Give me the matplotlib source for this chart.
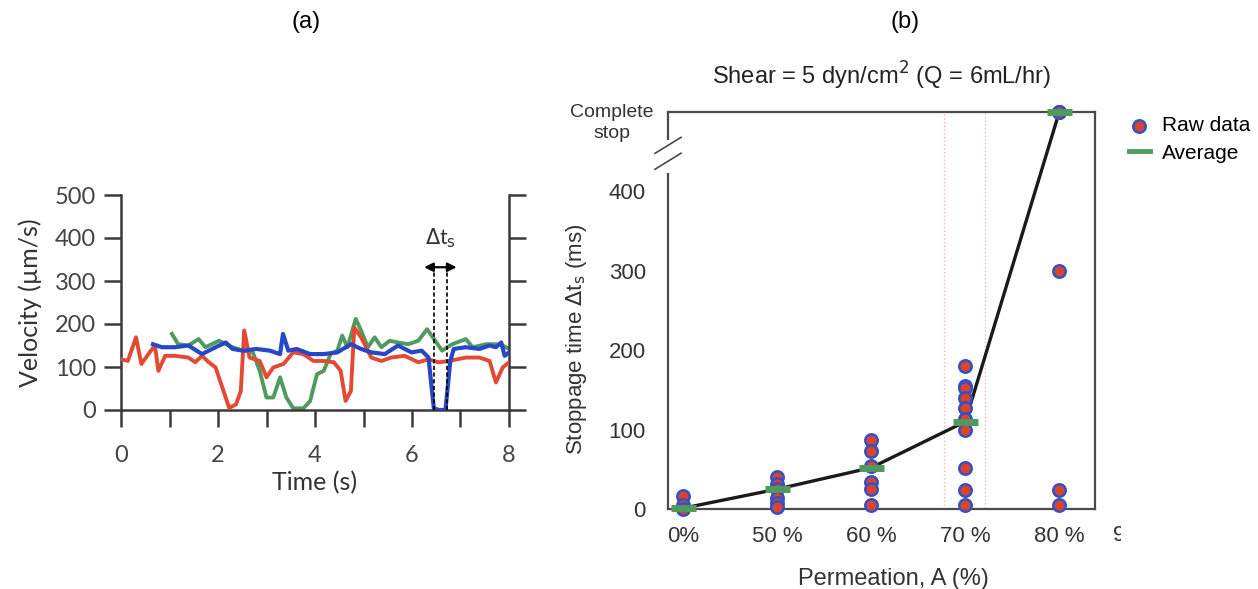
import matplotlib

matplotlib.use("Agg")
import matplotlib.pyplot as plt
from matplotlib import font_manager
from matplotlib.transforms import Bbox
import numpy as np

# ---- panel (a): velocity traces ----
red_t = [0.0, 0.14, 0.31, 0.42, 0.59, 0.70, 0.77, 0.91, 1.11, 1.39, 1.53, 1.67, 1.81, 1.95, 2.09, 2.23,
         2.37, 2.47, 2.54, 2.65, 2.86, 3.0, 3.14, 3.35, 3.55, 3.76, 3.97, 4.18, 4.39, 4.53, 4.63, 4.74,
         4.81, 4.95, 5.16, 5.37, 5.57, 5.85, 6.13, 6.34, 6.55, 6.76, 7.11, 7.39, 7.60, 7.73, 7.87, 8.0]
red_v = [118, 114, 169, 107, 134, 150, 91, 126, 126, 122, 111, 126, 111, 99, 52, 5,
         13, 44, 185, 122, 114, 76, 99, 107, 134, 130, 114, 114, 111, 91, 21, 44,
         192, 169, 122, 114, 122, 126, 111, 118, 111, 114, 122, 122, 114, 64, 99, 111]

green_t = [1.05, 1.18, 1.39, 1.60, 1.74, 2.02, 2.30, 2.51, 2.72, 2.86, 3.0, 3.14, 3.28, 3.41, 3.55, 3.76,
           3.90, 4.04, 4.18, 4.32, 4.46, 4.56, 4.67, 4.84, 4.95, 5.09, 5.23, 5.37, 5.54, 5.71, 5.92, 6.13,
           6.31, 6.48, 6.62, 6.83, 7.11, 7.25, 7.53, 7.73, 7.87, 8.0]
green_v = [177, 153, 150, 165, 146, 161, 146, 138, 134, 91, 29, 29, 76, 29, 4, 4,
           21, 83, 91, 130, 138, 173, 146, 212, 185, 146, 169, 146, 161, 157, 153, 161,
           188, 161, 138, 153, 165, 146, 153, 153, 150, 142]

blue_t = [0.66, 0.84, 1.11, 1.39, 1.67, 1.95, 2.16, 2.30, 2.51, 2.79, 3.07, 3.28, 3.34, 3.45, 3.62, 3.90,
          4.18, 4.46, 4.74, 4.95, 5.16, 5.44, 5.71, 5.99, 6.20, 6.34, 6.45, 6.55, 6.69, 6.79, 6.86, 7.11,
          7.39, 7.60, 7.73, 7.84, 7.91, 8.0]
blue_v = [153, 146, 146, 150, 130, 146, 157, 142, 138, 142, 138, 130, 177, 138, 142, 130,
          130, 134, 153, 142, 134, 130, 150, 134, 138, 122, 4, 0, 0, 114, 142, 146,
          142, 150, 146, 157, 126, 134]

# stoppage interval marked on the blue trace
stop_start, stop_end = 6.45, 6.72

# ---- panel (b): stoppage time vs permeation ----
COMPLETE_STOP = 500
perm_labels = ["0%", "50 %", "60 %", "70 %", "80 %"]
raw_data = [
    [16, 5, 0],
    [40, 31, 25, 14, 8, 3],
    [87, 73, 54, 34, 25, 5],
    [180, 155, 152, 140, 127, 113, 100, 52, 24, 5],
    [COMPLETE_STOP, COMPLETE_STOP, COMPLETE_STOP, 300, 24, 5],
]
average = [1, 25, 52, 110, COMPLETE_STOP]

RED = "#e24a33"
GREEN = "#4f9a5c"
BLUE = "#2747c9"


def pick_font(*names):
    available = {f.name for f in font_manager.fontManager.ttflist}
    for name in names:
        if name in available:
            return name
    return "DejaVu Sans"


FONT_A = pick_font("Lato", "Open Sans", "DejaVu Sans")
FONT_B = pick_font("Liberation Sans Narrow", "Liberation Sans", "DejaVu Sans")
FONT_T = pick_font("Liberation Sans", "DejaVu Sans")

W, H = 1258, 589
fig = plt.figure(figsize=(W / 100, H / 100), dpi=100)


def frac(x0, y0, x1, y1):
    return [x0 / W, 1 - y1 / H, (x1 - x0) / W, (y1 - y0) / H]


# ---------- (a) ----------
ax = fig.add_axes(frac(121, 195, 509, 410))
axis_col = "#3a3a3a"
ax.plot(red_t, red_v, color=RED, lw=2.8, zorder=3, solid_joinstyle="round")
ax.plot(green_t, green_v, color=GREEN, lw=2.8, zorder=2, solid_joinstyle="round")
ax.plot(blue_t, blue_v, color=BLUE, lw=3.0, zorder=4, solid_joinstyle="round")
ax.set_xlim(0, 8)
ax.set_ylim(0, 500)
ax.spines["top"].set_visible(False)
for side in ("left", "right", "bottom"):
    ax.spines[side].set_color(axis_col)
    ax.spines[side].set_linewidth(1.8)
ax.set_xticks([0, 2, 4, 6, 8])
ax.set_xticks([1, 3, 5, 7], minor=True)
ax.set_yticks(np.arange(0, 501, 100))
ax.tick_params(which="both", direction="out", length=12, width=1.8, color=axis_col,
               right=True, labelright=False, labelsize=17, labelcolor="#444444")
ax.tick_params(axis="x", which="both", pad=13)
ax.tick_params(axis="y", pad=6)
for lab in ax.get_xticklabels() + ax.get_yticklabels():
    lab.set_fontfamily(FONT_A)
ax.set_xlabel("Time (s)", fontsize=18, family=FONT_A, color="#333333", labelpad=4)
ax.set_ylabel("Velocity (µm/s)", fontsize=18, family=FONT_A, color="#333333", labelpad=9)

arrow_y = 332
for t in (stop_start, stop_end):
    ax.plot([t, t], [0, arrow_y], color="black", lw=1.2, ls=(0, (2.5, 1.5)), zorder=5)
ax.annotate("", xy=(stop_start - 0.2, arrow_y), xytext=(stop_end + 0.2, arrow_y),
            arrowprops=dict(arrowstyle="<|-|>", color="black", lw=1.6, mutation_scale=13,
                            shrinkA=0, shrinkB=0))
ax.text((stop_start + stop_end) / 2, 372, r"$\Delta$t$_\mathrm{s}$", ha="center", va="bottom",
        fontsize=15, family=FONT_A, color="#333333")

fig.text(306 / W, 1 - 22 / H, "(a)", ha="center", va="center", fontsize=17, family=FONT_T)

# ---------- (b) ----------
bx = fig.add_axes(frac(668, 112, 1095, 509))
xpos = np.arange(len(perm_labels))
bx.set_xlim(-0.16, 4.38)
bx.set_ylim(0, COMPLETE_STOP)
frame_col = "#4a4a4a"
for side in bx.spines.values():
    side.set_color(frame_col)
    side.set_linewidth(1.6)

# broken left axis
lower_top, upper_bottom = 422, 465
bx.spines["left"].set_bounds(0, lower_top)
bx.plot([-0.16, -0.16], [upper_bottom, COMPLETE_STOP], color=frame_col, lw=1.6, clip_on=False,
        solid_capstyle="butt")
ah = bx.get_position().height * H
aw = bx.get_position().width * W
for yc in (458, 438):
    yf = yc / COMPLETE_STOP
    bx.plot([-13 / aw, 13 / aw], [yf - 8 / ah, yf + 8 / ah], transform=bx.transAxes,
            color=frame_col, lw=1.2, clip_on=False)

# highlighted 70 % column
bx.plot([2.77, 2.77, 3.21, 3.21], [0, COMPLETE_STOP, COMPLETE_STOP, 0], color="#ff6b6b",
        lw=0.9, ls=(0, (1, 2)), alpha=0.6, zorder=1, clip_on=False)

bx.plot(xpos, average, color="#1a1a1a", lw=2.4, zorder=3, clip_on=False)
for x, vals in zip(xpos, raw_data):
    bx.scatter(np.full(len(vals), x), vals, s=80, facecolor="#d9452c", edgecolor="#3350c8",
               linewidth=1.8, zorder=4, clip_on=False)
bx.plot(xpos, average, ls="none", marker="_", markersize=18, mew=5, color=GREEN,
        zorder=5, clip_on=False)

bx.set_xticks(xpos)
bx.set_xticklabels(perm_labels)
bx.set_yticks(np.arange(0, 401, 100))
bx.tick_params(length=0, labelsize=16, labelcolor="#333333")
bx.tick_params(axis="y", pad=16)
bx.tick_params(axis="x", pad=12)
for lab in bx.get_xticklabels() + bx.get_yticklabels():
    lab.set_fontfamily(FONT_B)

# next category label, cut off at the panel edge
cut = bx.text(4.57, -33, "90 %", ha="left", va="center", fontsize=16, family=FONT_B,
              color="#333333")
cut.set_clip_box(Bbox([[0, 0], [1121, H]]))
cut.set_clip_on(True)

fig.text(612 / W, 1 - 104 / H, "Complete\nstop", ha="center", va="top", fontsize=14,
         family=FONT_B, color="#333333", linespacing=1.3)
bx.set_ylabel(r"Stoppage time $\Delta$t$_\mathrm{s}$ (ms)", fontsize=16, family=FONT_T,
              color="#333333")
bx.yaxis.set_label_coords(-0.185, 0.426)
bx.set_xlabel("Permeation, A (%)", fontsize=17, family=FONT_B, color="#333333")
bx.xaxis.set_label_coords(0.527, -0.148)
bx.set_title(r"Shear = 5 dyn/cm$^2$ (Q = 6mL/hr)", fontsize=17, family=FONT_T,
             color="#222222", pad=20)

h_raw = bx.scatter([], [], s=80, facecolor="#d9452c", edgecolor="#3350c8", linewidth=1.8)
h_avg, = bx.plot([], [], color=GREEN, lw=3.5)
bx.legend([h_raw, h_avg], ["Raw data", "Average"], loc="upper left", bbox_to_anchor=(1.06, 1.01),
          frameon=False, handlelength=1.0, handletextpad=0.6, labelspacing=0.4,
          prop={"family": FONT_T, "size": 15}, borderaxespad=0)

fig.text(905 / W, 1 - 22 / H, "(b)", ha="center", va="center", fontsize=17, family=FONT_T)

fig.savefig("out.png", dpi=100)
